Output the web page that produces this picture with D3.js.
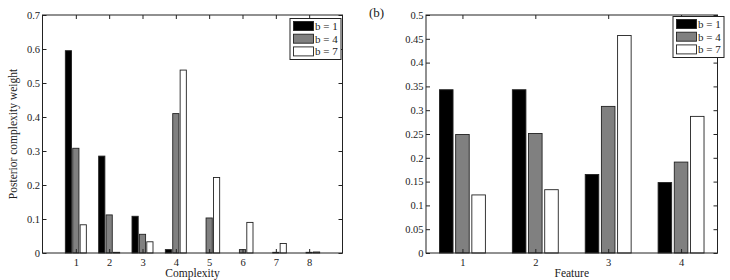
<!DOCTYPE html>
<html>
<head>
<meta charset="utf-8">
<script src="https://cdn.jsdelivr.net/npm/d3@7"></script>
<style>
  body { margin: 0; background: #fff; }
  text { font-family: "Liberation Serif", "DejaVu Serif", serif; }
</style>
</head>
<body>
<div id="container"></div>
<script>
// series names shared by both panels
const seriesNames = ["b = 1", "b = 4", "b = 7"];
const seriesFill = ["#000000", "#808080", "#ffffff"];

// left panel: complexity
const complexity = [1, 2, 3, 4, 5, 6, 7, 8];
const compB1 = [0.595, 0.285, 0.108, 0.010, 0.000, 0.000, 0.000, 0.000];
const compB4 = [0.308, 0.112, 0.055, 0.410, 0.103, 0.010, 0.002, 0.002];
const compB7 = [0.083, 0.002, 0.033, 0.538, 0.222, 0.090, 0.028, 0.003];
const compYTicks = [0, 0.1, 0.2, 0.3, 0.4, 0.5, 0.6, 0.7];

// right panel: feature
const feature = [1, 2, 3, 4];
const featB1 = [0.343, 0.343, 0.165, 0.148];
const featB4 = [0.249, 0.251, 0.308, 0.191];
const featB7 = [0.122, 0.133, 0.457, 0.287];
const featYTicks = [0, 0.05, 0.1, 0.15, 0.2, 0.25, 0.3, 0.35, 0.4, 0.45, 0.5];

const svg = d3.select("#container")
  .append("svg")
  .attr("width", 730)
  .attr("height", 280);

function drawPanel(opt) {
  const x = d3.scaleLinear().domain(opt.xDomain).range([opt.left, opt.right]);
  const y = d3.scaleLinear().domain(opt.yDomain).range([opt.bottom, opt.top]);
  const g = svg.append("g");

  // bars (matlab grouped style)
  const unit = x(1) - x(0);
  const offset = 0.222, bw = 0.186;
  opt.series.forEach((vals, s) => {
    g.selectAll(null)
      .data(opt.cats.map((c, i) => ({c: c, v: vals[i]})))
      .enter().append("rect")
      .attr("x", d => x(d.c + (s - 1) * offset) - bw * unit / 2)
      .attr("width", bw * unit)
      .attr("y", d => y(d.v))
      .attr("height", d => y(0) - y(d.v))
      .attr("fill", seriesFill[s])
      .attr("stroke", "#222")
      .attr("stroke-width", 0.9);
  });

  // axes, ticks inside on all four sides
  const tl = 4;
  const bottomAx = d3.axisBottom(x).tickValues(opt.cats).tickSizeInner(-tl).tickSizeOuter(0)
    .tickPadding(5.5).tickFormat(d3.format("d"));
  const topAx = d3.axisTop(x).tickValues(opt.cats).tickSizeInner(-tl).tickSizeOuter(0).tickFormat("");
  const leftAx = d3.axisLeft(y).tickValues(opt.yTicks).tickSizeInner(-tl).tickSizeOuter(0).tickPadding(2.5)
    .tickFormat(d => d3.format("")(+d.toFixed(2)));
  const rightAx = d3.axisRight(y).tickValues(opt.yTicks).tickSizeInner(-tl).tickSizeOuter(0).tickFormat("");

  const ax = [
    g.append("g").attr("transform", `translate(0,${opt.bottom})`).call(bottomAx),
    g.append("g").attr("transform", `translate(0,${opt.top})`).call(topAx),
    g.append("g").attr("transform", `translate(${opt.left},0)`).call(leftAx),
    g.append("g").attr("transform", `translate(${opt.right},0)`).call(rightAx)
  ];
  ax.forEach(a => {
    a.select(".domain").remove();
    a.selectAll("line").attr("stroke", "#222");
    a.selectAll("text").attr("font-size", 10.5).attr("fill", "#222")
      .style("font-family", "Liberation Serif");
  });

  g.append("rect")
    .attr("x", opt.left).attr("y", opt.top)
    .attr("width", opt.right - opt.left).attr("height", opt.bottom - opt.top)
    .attr("fill", "none").attr("stroke", "#222").attr("stroke-width", 1);

  // x label
  g.append("text")
    .attr("x", (opt.left + opt.right) / 2)
    .attr("y", 276.5)
    .attr("text-anchor", "middle")
    .attr("font-size", 11.5)
    .attr("fill", "#222")
    .text(opt.xLabel);

  // legend
  const lg = g.append("g").attr("transform", `translate(${opt.legX},${opt.legY})`);
  lg.append("rect").attr("width", 51).attr("height", 41)
    .attr("fill", "#fff").attr("stroke", "#222").attr("stroke-width", 1);
  seriesNames.forEach((n, s) => {
    lg.append("rect").attr("x", 3.5).attr("y", 3 + s * 12.7).attr("width", 20).attr("height", 9)
      .attr("fill", seriesFill[s]).attr("stroke", "#222").attr("stroke-width", 0.9);
    lg.append("text").attr("x", 25).attr("y", 11.5 + s * 12.7)
      .attr("font-size", 11).attr("fill", "#222").text(n);
  });
  return g;
}

drawPanel({
  left: 42.5, right: 342.5, top: 15, bottom: 253,
  xDomain: [0, 9], yDomain: [0, 0.7],
  cats: complexity, series: [compB1, compB4, compB7], yTicks: compYTicks,
  xLabel: "Complexity", legX: 290, legY: 18.5
});

drawPanel({
  left: 426, right: 717.5, top: 15, bottom: 253,
  xDomain: [0.5, 4.5], yDomain: [0, 0.5],
  cats: feature, series: [featB1, featB4, featB7], yTicks: featYTicks,
  xLabel: "Feature", legX: 673, legY: 16.5
});

svg.append("text")
  .attr("transform", "translate(17,134) rotate(-90)")
  .attr("text-anchor", "middle")
  .attr("font-size", 11.5)
  .attr("fill", "#222")
  .text("Posterior complexity weight");

svg.append("text")
  .attr("x", 369).attr("y", 17)
  .attr("font-size", 13)
  .attr("fill", "#222")
  .text("(b)");
</script>
</body>
</html>
